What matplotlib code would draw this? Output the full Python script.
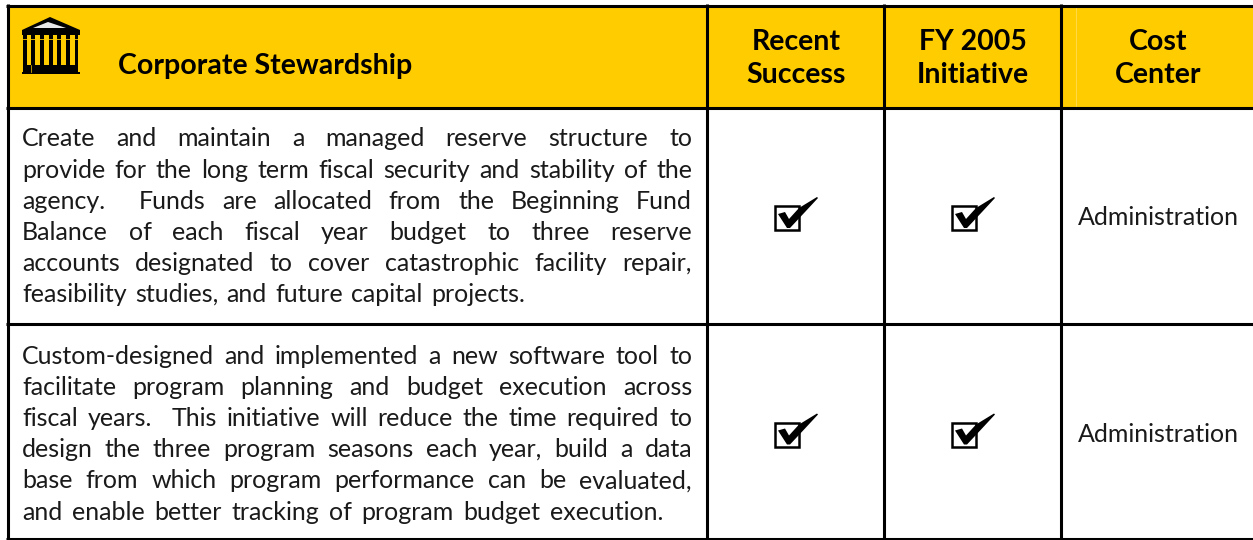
import matplotlib
matplotlib.use('Agg')
import matplotlib.pyplot as plt
from matplotlib.patches import Rectangle, Polygon

# Data
title = 'Corporate Stewardship'
col_heads = [['Recent', 'Success'], ['FY 2005', 'Initiative'], ['Cost', 'Center']]
row1_lines = ['Create and maintain a managed reserve structure to',
              'provide for the long term fiscal security and stability of the',
              'agency.  Funds are allocated from the Beginning Fund',
              'Balance of each fiscal year budget to three reserve',
              'accounts designated to cover catastrophic facility repair,',
              'feasibility studies, and future capital projects.']
row2_lines = ['Custom-designed and implemented a new software tool to',
              'facilitate program planning and budget execution across',
              'fiscal years.  This initiative will reduce the time required to',
              'design the three program seasons each year, build a data',
              'base from which program performance can be evaluated,',
              'and enable better tracking of program budget execution.']
rows = [row1_lines, row2_lines]
cost_center = ['Administration', 'Administration']
row_first_y = [146.5, 364]
last_line_right = [525, 663]
row_mid_y = [218, 434.5]

gold = '#FFCC00'
ink = '#1a1a1a'
font = 'Lato'

fig = plt.figure(figsize=(12.53, 5.4), dpi=100)
ax = fig.add_axes([0, 0, 1, 1])
ax.set_xlim(0, 1253)
ax.set_ylim(540, 0)
ax.axis('off')

# header band and grid
ax.add_patch(Rectangle((7, 5), 1246, 102, color=gold, lw=0))
ax.plot([1075.5, 1075.5], [8, 106], color='#FFE066', lw=0.5)
for x in [7.5, 707, 884, 1061.3]:
    ax.plot([x, x], [4, 540], color='black', lw=2.2, solid_capstyle='butt')
for y in [5.5, 107.5, 323.5, 538.8]:
    ax.plot([6, 1253], [y, y], color='black', lw=2.2, solid_capstyle='butt')

# temple icon
ax.add_patch(Polygon([[22, 30], [50, 17], [80, 30]], color='black', lw=0))
ax.add_patch(Polygon([[33, 28], [48, 22], [66, 28]], color='#e8e8e8', lw=0))
ax.add_patch(Rectangle((22, 30), 58, 5, color='black', lw=0))
ax.add_patch(Rectangle((23, 35), 55, 37, color='black', lw=0))
ax.add_patch(Rectangle((22, 72), 58, 2, color='black', lw=0))
for x in [26.7, 35.3, 44, 52.7, 61.3, 70]:
    ax.add_patch(Rectangle((x, 35), 4.5, 30, color=gold, lw=0))
ax.plot([23, 78], [38.5, 38.5], color=gold, lw=0.6)
ax.plot([31, 31], [65, 72], color=gold, lw=0.5)

ax.text(118, 74, title, fontsize=20.5, fontweight='bold', family=font, va='baseline', ha='left', color='black')
for cx, head in zip([796, 973, 1158], col_heads):
    ax.text(cx, 50, head[0], fontsize=20.5, fontweight='bold', family=font, va='baseline', ha='center', color='black')
    ax.text(cx, 83, head[1], fontsize=20.5, fontweight='bold', family=font, va='baseline', ha='center', color='black')

# justified body text, word by word
renderer = fig.canvas.get_renderer()
left, right = 22, 692
line_h = 31.1
for first_y, lines, last_right in zip(row_first_y, rows, last_line_right):
    for i, line in enumerate(lines):
        y = first_y + i * line_h
        end = last_right if i == len(lines) - 1 else right
        # a double space stays as an empty word, so it gets two gaps
        words = line.split(' ')
        items = [ax.text(0, y, w, fontsize=18, family=font, va='baseline', ha='left', color=ink) if w else None for w in words]
        widths = [t.get_window_extent(renderer).width if t else 0 for t in items]
        gap = (end - left - sum(widths)) / (len(words) - 1)
        x = left
        for t, w in zip(items, widths):
            if t:
                t.set_x(x)
            x += w + gap

# check marks and cost center
tick = [[3, -4], [10, -6], [14, 1], [24, -10], [42, -21], [43, -20], [30, -6], [15, 10], [12, 10]]
for my, cc in zip(row_mid_y, cost_center):
    for cx in [775, 952]:
        ax.add_patch(Rectangle((cx, my - 12), 24, 24, fill=False, ec='black', lw=1.8))
        ax.add_patch(Polygon([[cx + p[0], my + p[1]] for p in tick], color='black', lw=0))
    ax.text(1158, my + 7, cc, fontsize=18, family=font, va='baseline', ha='center', color=ink)

fig.savefig('out.png', dpi=100)
